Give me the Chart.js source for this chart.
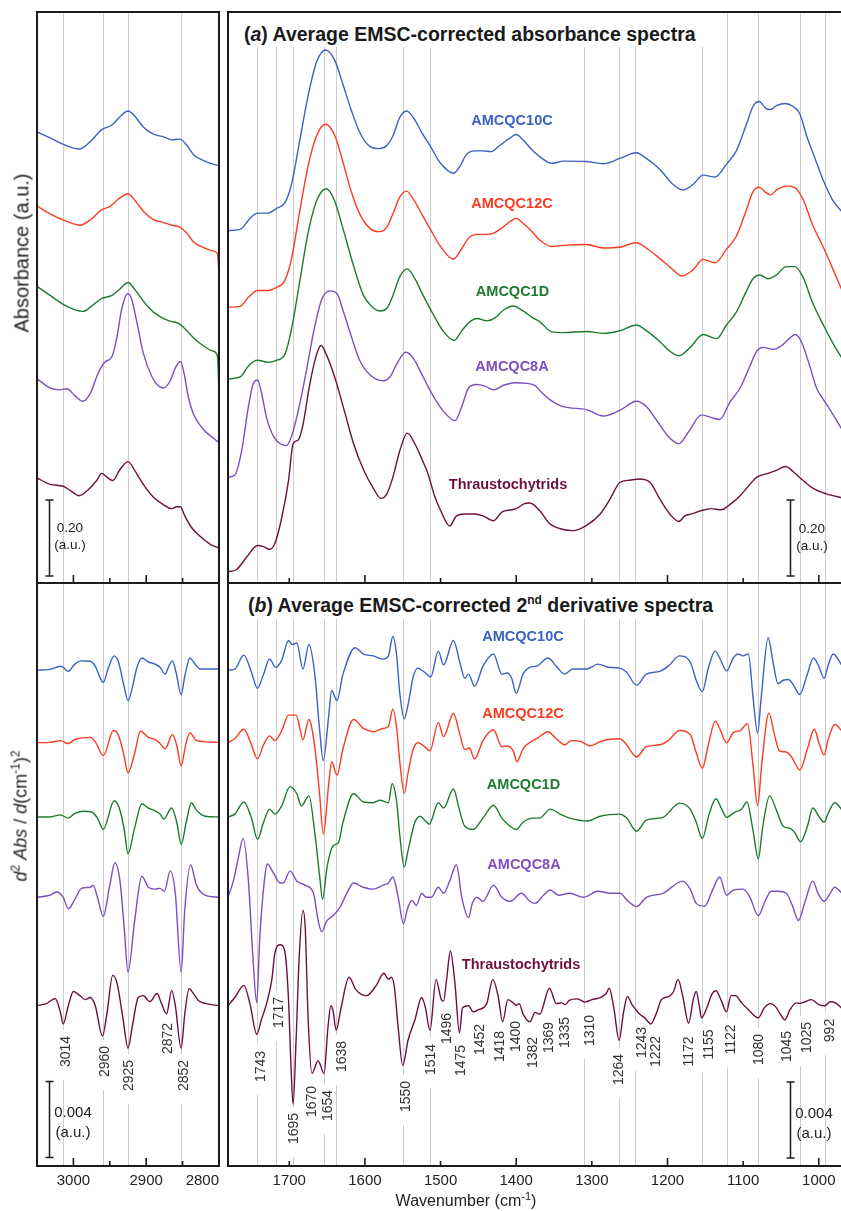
<!DOCTYPE html>
<html>
<head>
<meta charset="utf-8">
<script src="https://cdn.jsdelivr.net/npm/chart.js@4.4.1/dist/chart.umd.min.js"></script>
<style>
  html, body { margin: 0; padding: 0; background: #fff; }
  #fig { position: relative; width: 841px; height: 1211px; overflow: hidden;
         font-family: "Liberation Sans", Arial, sans-serif; color: #222; }
  canvas { position: absolute; left: 0; top: 0; }
  #guideLayer { z-index: 0; }
  .plot { z-index: 2; }
  .txt { position: absolute; z-index: 3; white-space: nowrap; }
  .series { font-weight: bold; font-size: 14.5px; line-height: 16px; transform: translate(-50%, -50%); }
  .rot { transform: translate(-50%, -50%) rotate(-90deg); }
  .peak { position: absolute; z-index: 1; white-space: nowrap; font-size: 14px; line-height: 14px;
          color: #333; background: #fff; padding: 0 6px 0 13px;
          transform: translate(-50%, -50%) rotate(-90deg); }
  .titlebox { position: absolute; z-index: 1; background: #fff; font-weight: bold;
              font-size: 19.5px; line-height: 22px; white-space: nowrap; color: #1a1a1a; }
  .bar { text-align: center; transform: translate(-50%, -50%); color: #222; }
</style>
</head>
<body>
<div id="fig">
  <canvas id="guideLayer" width="845" height="1211"></canvas>
  <canvas id="absCH" class="plot" width="845" height="1211"></canvas>
  <canvas id="absFP" class="plot" width="845" height="1211"></canvas>
  <canvas id="d2CH" class="plot" width="845" height="1211"></canvas>
  <canvas id="d2FP" class="plot" width="845" height="1211"></canvas>
</div>
<script>
// ---- samples ----
const SERIES = ['AMCQC10C', 'AMCQC12C', 'AMCQC1D', 'AMCQC8A', 'Thraustochytrids'];
const COLORS = ['#3b61c2', '#fb3b22', '#1c7b30', '#7c4fbf', '#6c1042'];

// ---- (a) average absorbance, C-H stretching region [wavenumber, absorbance (stacked)] ----
const absCH_10C = [[3050,1.189],[3032,1.173],[3014,1.156],[2992,1.144],[2977,1.163],[2961,1.195],[2947,1.207],[2936,1.229],[2925,1.244],[2915,1.229],[2904,1.202],[2890,1.183],[2876,1.176],[2865,1.168],[2854,1.170],[2844,1.153],[2835,1.129],[2822,1.114],[2808,1.104],[2800,1.100]];
const absCH_12C = [[3050,0.994],[3032,0.973],[3009,0.953],[2991,0.943],[2975,0.960],[2961,0.984],[2950,0.992],[2938,1.012],[2925,1.026],[2915,1.007],[2904,0.980],[2890,0.958],[2876,0.950],[2865,0.943],[2854,0.938],[2844,0.922],[2835,0.899],[2822,0.885],[2808,0.875],[2802,0.867],[2800,0.812]];
const absCH_1D = [[3050,0.782],[3032,0.758],[3009,0.729],[2987,0.716],[2973,0.733],[2961,0.750],[2947,0.758],[2936,0.775],[2925,0.792],[2915,0.772],[2904,0.743],[2890,0.714],[2876,0.697],[2865,0.689],[2856,0.685],[2844,0.665],[2835,0.646],[2822,0.626],[2808,0.611],[2802,0.597],[2800,0.494]];
const absCH_8A = [[3050,0.538],[3032,0.514],[3021,0.509],[3009,0.512],[2998,0.494],[2987,0.479],[2977,0.499],[2966,0.553],[2957,0.582],[2947,0.597],[2940,0.650],[2934,0.719],[2925,0.763],[2920,0.748],[2913,0.689],[2904,0.606],[2892,0.543],[2883,0.519],[2876,0.514],[2867,0.533],[2860,0.567],[2853,0.584],[2848,0.553],[2842,0.489],[2835,0.445],[2822,0.406],[2808,0.382],[2800,0.370]];
const absCH_Th = [[3050,0.277],[3032,0.260],[3014,0.255],[3005,0.245],[2992,0.230],[2980,0.245],[2968,0.270],[2961,0.289],[2954,0.279],[2946,0.270],[2936,0.299],[2925,0.320],[2915,0.294],[2904,0.260],[2890,0.226],[2876,0.206],[2865,0.196],[2858,0.201],[2853,0.201],[2847,0.177],[2838,0.147],[2826,0.123],[2812,0.102],[2800,0.092]];

// ---- (a) average absorbance, 1800-950 region ----
const absFP_10C = [[1781,0.929],[1765,0.932],[1752,0.961],[1742,0.975],[1728,0.975],[1717,0.987],[1706,1.002],[1697,1.051],[1686,1.168],[1675,1.285],[1664,1.373],[1652,1.405],[1640,1.378],[1629,1.314],[1618,1.246],[1607,1.188],[1593,1.150],[1581,1.145],[1571,1.153],[1563,1.178],[1554,1.227],[1545,1.244],[1536,1.227],[1525,1.188],[1514,1.153],[1501,1.109],[1483,1.080],[1474,1.100],[1466,1.129],[1455,1.139],[1444,1.139],[1433,1.137],[1422,1.153],[1408,1.173],[1400,1.182],[1391,1.168],[1378,1.139],[1369,1.124],[1353,1.106],[1338,1.112],[1307,1.111],[1285,1.105],[1263,1.119],[1241,1.134],[1228,1.119],[1210,1.090],[1193,1.051],[1179,1.036],[1166,1.051],[1153,1.075],[1137,1.070],[1122,1.104],[1109,1.139],[1096,1.207],[1087,1.256],[1079,1.269],[1070,1.251],[1064,1.248],[1056,1.258],[1045,1.264],[1034,1.256],[1025,1.236],[1016,1.178],[1005,1.119],[994,1.061],[981,1.007],[968,0.975]];
const absFP_12C = [[1781,0.727],[1765,0.729],[1754,0.753],[1742,0.771],[1728,0.771],[1717,0.779],[1706,0.797],[1697,0.855],[1686,0.982],[1675,1.100],[1664,1.178],[1652,1.209],[1640,1.180],[1629,1.109],[1618,1.031],[1607,0.973],[1593,0.934],[1581,0.926],[1571,0.938],[1563,0.973],[1554,1.017],[1545,1.033],[1536,1.012],[1525,0.973],[1514,0.934],[1501,0.890],[1483,0.854],[1474,0.875],[1463,0.909],[1452,0.919],[1439,0.919],[1430,0.922],[1419,0.936],[1408,0.953],[1400,0.961],[1391,0.948],[1378,0.924],[1369,0.904],[1353,0.887],[1338,0.890],[1307,0.892],[1285,0.883],[1263,0.885],[1241,0.897],[1228,0.883],[1210,0.855],[1193,0.826],[1181,0.809],[1166,0.826],[1153,0.853],[1137,0.844],[1122,0.880],[1109,0.914],[1096,0.982],[1087,1.031],[1079,1.043],[1071,1.031],[1064,1.023],[1054,1.039],[1043,1.046],[1032,1.043],[1021,1.012],[1008,0.943],[994,0.885],[981,0.826],[968,0.765]];
const absFP_1D = [[1781,0.538],[1765,0.543],[1754,0.572],[1742,0.587],[1728,0.582],[1717,0.587],[1706,0.602],[1697,0.670],[1686,0.797],[1675,0.924],[1664,1.007],[1651,1.039],[1640,1.007],[1629,0.934],[1615,0.836],[1602,0.758],[1591,0.729],[1580,0.717],[1571,0.724],[1563,0.758],[1554,0.807],[1544,0.828],[1534,0.802],[1523,0.758],[1510,0.709],[1497,0.665],[1482,0.639],[1472,0.665],[1461,0.689],[1452,0.697],[1439,0.691],[1428,0.699],[1417,0.719],[1404,0.730],[1391,0.717],[1378,0.699],[1369,0.689],[1353,0.662],[1338,0.660],[1307,0.663],[1285,0.658],[1263,0.665],[1241,0.680],[1228,0.665],[1210,0.636],[1197,0.611],[1185,0.599],[1170,0.621],[1153,0.655],[1135,0.644],[1122,0.680],[1109,0.714],[1096,0.768],[1087,0.802],[1078,0.812],[1067,0.802],[1056,0.812],[1043,0.834],[1032,0.834],[1021,0.807],[1008,0.738],[994,0.680],[981,0.631],[968,0.588]];
const absFP_8A = [[1781,0.279],[1772,0.284],[1763,0.348],[1754,0.465],[1748,0.523],[1742,0.535],[1737,0.504],[1730,0.436],[1721,0.387],[1712,0.367],[1704,0.362],[1697,0.387],[1688,0.455],[1677,0.563],[1668,0.660],[1657,0.748],[1646,0.770],[1637,0.763],[1629,0.719],[1618,0.650],[1607,0.587],[1593,0.548],[1576,0.533],[1567,0.543],[1558,0.577],[1546,0.608],[1536,0.592],[1523,0.543],[1510,0.494],[1497,0.455],[1481,0.428],[1472,0.465],[1463,0.514],[1452,0.523],[1441,0.519],[1430,0.509],[1417,0.521],[1402,0.528],[1386,0.526],[1375,0.520],[1367,0.504],[1356,0.484],[1338,0.465],[1307,0.457],[1285,0.440],[1263,0.455],[1241,0.479],[1228,0.465],[1210,0.416],[1197,0.382],[1185,0.367],[1173,0.396],[1155,0.443],[1142,0.436],[1131,0.431],[1118,0.475],[1104,0.514],[1091,0.572],[1082,0.611],[1074,0.621],[1060,0.616],[1049,0.626],[1038,0.646],[1031,0.655],[1023,0.636],[1012,0.572],[1003,0.514],[994,0.484],[983,0.450],[968,0.400]];
const absFP_Th = [[1781,0.030],[1770,0.035],[1756,0.069],[1742,0.099],[1734,0.096],[1726,0.089],[1719,0.104],[1710,0.172],[1701,0.270],[1695,0.367],[1688,0.377],[1682,0.416],[1673,0.523],[1664,0.602],[1658,0.626],[1651,0.602],[1640,0.543],[1626,0.445],[1615,0.367],[1602,0.299],[1589,0.250],[1579,0.223],[1571,0.235],[1563,0.279],[1554,0.348],[1544,0.395],[1534,0.367],[1525,0.328],[1516,0.284],[1508,0.230],[1499,0.187],[1488,0.150],[1479,0.177],[1468,0.182],[1455,0.182],[1444,0.177],[1430,0.164],[1419,0.187],[1406,0.193],[1400,0.196],[1389,0.209],[1382,0.211],[1369,0.191],[1356,0.157],[1338,0.141],[1325,0.138],[1307,0.152],[1289,0.182],[1276,0.221],[1263,0.265],[1250,0.271],[1237,0.274],[1223,0.265],[1210,0.221],[1197,0.182],[1185,0.162],[1177,0.177],[1168,0.182],[1155,0.191],[1142,0.196],[1129,0.193],[1118,0.206],[1104,0.230],[1091,0.260],[1082,0.279],[1067,0.289],[1056,0.297],[1044,0.307],[1034,0.294],[1023,0.274],[1008,0.250],[990,0.235],[968,0.224]];

// ---- (b) 2nd derivative, C-H region [wavenumber, d2A in units of 1e-3] ----
const d2CH_10C = [[3050,0],[3032,0.04],[3018,0.21],[3014,0.15],[3007,-0.06],[2998,0.32],[2989,0.49],[2977,0.47],[2970,0.21],[2963,-0.43],[2959,-0.64],[2952,0.11],[2944,0.75],[2938,0.43],[2931,-0.75],[2925,-1.60],[2918,-0.75],[2913,0.11],[2906,0.64],[2897,0.43],[2888,0.32],[2881,0.15],[2874,-0.21],[2870,0.11],[2864,0.49],[2859,-0.11],[2852,-1.28],[2847,-0.32],[2840,0.64],[2833,0.32],[2826,0.06],[2800,0.06]];
const d2CH_12C = [[3050,0],[3032,0.02],[3018,0.11],[3007,-0.04],[2998,0.17],[2977,0.28],[2970,0.06],[2959,-0.68],[2945,0.64],[2938,0.38],[2931,-0.58],[2925,-1.58],[2916,-0.58],[2908,0.60],[2897,0.28],[2888,0.17],[2881,-0.04],[2874,-0.32],[2864,0.43],[2858,-0.15],[2852,-1.22],[2846,-0.15],[2840,0.53],[2831,0.11],[2800,0.02]];
const d2CH_1D = [[3050,0],[3032,0],[3018,0.11],[3007,-0.06],[2998,0.19],[2986,0.30],[2975,0.26],[2967,-0.06],[2959,-0.66],[2944,0.85],[2937,0.47],[2930,-0.71],[2925,-1.94],[2916,-0.60],[2906,0.68],[2897,0.47],[2888,0.32],[2881,0.15],[2876,-0.11],[2865,0.47],[2858,-0.28],[2852,-1.45],[2845,-0.28],[2838,0.75],[2831,0.36],[2819,0.04],[2800,0]];
const d2CH_8A = [[3050,0],[3032,0.11],[3023,0.28],[3014,0],[3007,-0.60],[2998,-0.11],[2989,0.47],[2977,0.53],[2973,0.64],[2967,0],[2959,-1.00],[2950,0.64],[2943,1.82],[2936,0.85],[2930,-1.71],[2925,-3.95],[2916,-1.28],[2906,1.11],[2897,0.53],[2888,0.43],[2881,0.47],[2875,0.32],[2867,1.39],[2860,0.21],[2852,-3.95],[2847,-0.64],[2839,1.71],[2831,0.64],[2819,0.11],[2800,0]];
const d2CH_Th = [[3050,0],[3037,0.11],[3025,0.38],[3018,-0.32],[3014,-0.96],[3007,0],[3000,0.75],[2991,0.53],[2984,0.32],[2977,0.43],[2970,0],[2960,-1.60],[2954,-0.43],[2946,1.60],[2940,1.18],[2932,-0.64],[2925,-2.24],[2919,-1.07],[2911,0.43],[2904,0.53],[2895,0.21],[2885,0.64],[2879,0.11],[2872,-0.43],[2865,0.81],[2860,0],[2852,-2.24],[2847,-0.43],[2841,0.90],[2835,0.64],[2828,0.26],[2817,0.11],[2800,0]];

// ---- (b) 2nd derivative, 1800-950 region ----
const d2FP_10C = [[1781,0],[1772,0.06],[1760,0.79],[1750,-0.11],[1742,-0.96],[1734,-0.21],[1726,0.58],[1718,0.15],[1710,0.53],[1701,1.56],[1696,1.35],[1690,1.43],[1682,0.06],[1674,1.35],[1666,-0.32],[1660,-3.10],[1655,-4.76],[1648,-2.46],[1644,-1.07],[1637,-1.60],[1629,-0.21],[1613,1.18],[1602,0.85],[1589,0.75],[1576,0.58],[1569,0.75],[1563,1.77],[1558,0.75],[1554,-1.18],[1548,-2.56],[1543,-1.82],[1536,-0.32],[1530,0.11],[1521,-0.11],[1513,-0.36],[1503,1.00],[1496,0.28],[1483,1.56],[1474,0.32],[1468,-0.43],[1463,-0.21],[1455,-0.85],[1444,0.21],[1430,0.85],[1419,-0.21],[1412,-0.15],[1406,-0.43],[1400,-1.22],[1391,-0.21],[1382,0.15],[1373,0.21],[1358,0.64],[1347,0.21],[1336,-0.21],[1325,0.06],[1307,0.06],[1292,0.32],[1278,0.15],[1263,0.11],[1254,-0.11],[1241,-0.79],[1228,-0.21],[1210,-0.06],[1199,0.21],[1184,0.75],[1170,0.43],[1162,-0.53],[1154,-1.13],[1146,0.11],[1137,1.00],[1131,0.64],[1122,-0.04],[1113,0.64],[1107,0.85],[1100,0.75],[1093,0.85],[1087,-1.39],[1081,-3.31],[1076,-1.39],[1067,1.71],[1060,0.32],[1054,-0.71],[1047,-0.53],[1040,-0.49],[1034,-0.75],[1025,-1.28],[1016,-0.32],[1007,0.64],[1000,0.21],[993,-0.43],[988,0.21],[981,0.85],[968,0.15]];
const d2FP_12C = [[1781,0],[1772,0.21],[1760,0.71],[1750,-0.11],[1742,-0.85],[1734,-0.11],[1726,0.36],[1719,0.11],[1710,0.64],[1701,1.45],[1691,1.45],[1686,0.75],[1682,0.15],[1674,1.22],[1666,-0.32],[1660,-2.67],[1655,-4.81],[1648,-2.24],[1644,-1.00],[1637,-1.71],[1629,-0.32],[1615,1.22],[1602,0.75],[1589,0.58],[1576,0.75],[1569,0.85],[1563,1.77],[1558,0.75],[1554,-0.96],[1548,-2.67],[1543,-1.60],[1536,-0.32],[1530,0],[1521,-0.21],[1514,-0.43],[1503,1.07],[1496,0.32],[1483,1.54],[1475,0.53],[1468,-0.36],[1462,-0.28],[1455,-0.85],[1444,0.11],[1430,0.68],[1419,-0.21],[1412,-0.17],[1404,-0.43],[1399,-1.00],[1391,-0.32],[1378,0.11],[1373,0.21],[1358,0.58],[1347,0.21],[1336,-0.11],[1327,0.11],[1314,0.06],[1303,-0.17],[1289,0.06],[1278,0.17],[1263,0.21],[1254,-0.11],[1241,-0.75],[1228,-0.21],[1210,-0.11],[1199,0.11],[1184,0.64],[1170,0.43],[1162,-0.53],[1154,-1.35],[1146,-0.11],[1137,1.13],[1131,0.75],[1122,0],[1113,0.53],[1104,0.64],[1094,1.00],[1087,-1.18],[1081,-3.31],[1075,-0.96],[1066,1.56],[1058,0.32],[1052,-0.43],[1043,-0.49],[1036,-0.75],[1025,-1.43],[1015,-0.32],[1006,0.71],[999,-0.11],[993,-0.64],[988,0.11],[979,0.96],[968,0.55]];
const d2FP_1D = [[1781,0],[1772,0.15],[1760,0.79],[1750,-0.06],[1742,-1.18],[1734,-0.28],[1726,0.41],[1719,0.15],[1710,0.58],[1699,1.60],[1690,1.22],[1684,0.58],[1674,1.11],[1666,-0.92],[1660,-3.06],[1656,-4.34],[1650,-2.63],[1642,-1.52],[1635,-1.35],[1629,-0.28],[1615,1.22],[1602,0.79],[1589,0.75],[1580,0.88],[1569,0.75],[1564,1.75],[1558,0.79],[1554,-0.92],[1548,-2.63],[1543,-1.77],[1534,-0.28],[1527,0.04],[1521,-0.17],[1515,-0.38],[1503,0.75],[1496,0.47],[1483,1.47],[1475,0.36],[1468,-0.49],[1457,-0.66],[1444,-0.06],[1430,0.62],[1419,-0.06],[1408,-0.49],[1400,-0.66],[1391,-0.28],[1378,-0.06],[1369,-0.06],[1355,0.41],[1342,0.15],[1329,-0.06],[1305,-0.21],[1289,0.04],[1263,0.15],[1254,-0.06],[1241,-0.75],[1228,-0.17],[1206,-0.02],[1184,0.73],[1170,0.41],[1162,-0.28],[1154,-1.13],[1145,0.15],[1136,0.96],[1129,0.47],[1122,-0.02],[1111,0.26],[1102,0.41],[1095,0.79],[1087,-0.71],[1080,-2.20],[1074,-0.49],[1065,1.11],[1056,0.36],[1047,-0.49],[1038,-0.60],[1032,-0.81],[1024,-1.30],[1015,-0.49],[1008,0.47],[1000,0.04],[993,-0.28],[988,0.15],[979,0.75],[968,0.30]];
const d2FP_8A = [[1781,0],[1774,0.85],[1767,2.14],[1761,3.10],[1754,0.85],[1748,-3.21],[1743,-5.56],[1739,-2.14],[1733,0.85],[1729,1.75],[1721,1.28],[1712,0.75],[1708,0.75],[1699,1.39],[1690,0.85],[1679,0.64],[1668,0.21],[1662,-1.18],[1657,-1.82],[1651,-1.28],[1642,-0.96],[1633,-0.53],[1624,0.21],[1615,0.75],[1602,0.53],[1589,0.43],[1576,0.64],[1569,0.75],[1563,1.07],[1556,0],[1549,-1.39],[1544,-0.64],[1538,-0.17],[1532,-0.43],[1525,0.21],[1519,0],[1512,0],[1503,0.53],[1496,0.21],[1488,0.85],[1479,1.71],[1472,0],[1463,-1.07],[1458,-0.32],[1452,0],[1444,-0.21],[1430,0.64],[1419,0],[1408,-0.21],[1393,0.21],[1382,-0.21],[1375,-0.32],[1364,0.11],[1355,0.38],[1344,0.11],[1329,0.21],[1311,0],[1292,0.32],[1276,0.21],[1263,0.21],[1252,-0.21],[1241,-0.49],[1228,0],[1206,0.21],[1180,0.85],[1170,0.43],[1162,-0.32],[1151,-0.47],[1140,0.43],[1131,1.07],[1122,0.11],[1113,0.38],[1100,0.43],[1091,0],[1080,-0.96],[1071,-0.21],[1063,0.32],[1054,0.32],[1043,0.21],[1035,-0.43],[1027,-1.22],[1018,-0.21],[1008,0.85],[1001,0.21],[993,-0.21],[985,0.21],[979,0.53],[968,0.15]];
const d2FP_Th = [[1781,0],[1772,0.43],[1760,1.07],[1752,0.11],[1743,-1.50],[1737,-0.75],[1730,0.11],[1723,1.39],[1719,2.78],[1712,3.21],[1706,2.88],[1701,0.32],[1698,-2.88],[1695,-5.20],[1691,-1.82],[1687,2.46],[1682,5.02],[1679,4.17],[1675,-0.75],[1670,-3.57],[1662,-2.90],[1654,-3.57],[1649,-1.20],[1645,0.00],[1642,-0.30],[1638,-1.30],[1632,-0.20],[1621,1.50],[1612,0.85],[1598,0.53],[1585,1.07],[1575,1.71],[1569,1.39],[1565,1.50],[1561,0.96],[1556,-1.17],[1550,-3.14],[1543,-1.82],[1534,-0.75],[1525,0.43],[1520,-0.11],[1514,-1.30],[1506,1.39],[1499,0.32],[1496,0.25],[1492,1.39],[1487,2.88],[1481,1.18],[1475,-1.43],[1471,-0.11],[1463,0],[1457,-0.32],[1450,-0.21],[1439,0.11],[1431,1.39],[1424,0.53],[1418,-0.85],[1411,0.32],[1404,0.15],[1400,0.02],[1396,0.11],[1391,-0.43],[1382,-0.85],[1375,-0.35],[1369,-0.45],[1356,0.92],[1347,0.11],[1340,0.15],[1335,0.06],[1330,0.28],[1320,0.36],[1314,0.28],[1310,0.19],[1300,0.32],[1290,0.41],[1281,0.64],[1277,0.92],[1271,-0.11],[1264,-1.82],[1258,-0.32],[1253,0.49],[1247,0.06],[1243,-0.15],[1237,-0.43],[1230,-0.64],[1222,-0.96],[1215,-0.43],[1208,0.32],[1198,0.49],[1192,0.75],[1186,1.39],[1180,0.53],[1172,-0.92],[1166,0.32],[1162,0.75],[1158,0],[1155,-0.64],[1148,-0.11],[1141,0.64],[1136,0.79],[1129,0.28],[1122,-0.32],[1116,0.53],[1110,0.53],[1102,0.15],[1093,-0.21],[1080,-0.64],[1072,-0.11],[1064,0.11],[1057,-0.06],[1051,-0.43],[1045,-0.75],[1038,-0.21],[1030,0.15],[1025,0.12],[1018,0.21],[1010,0.32],[1000,0.06],[992,0],[985,0.21],[978,0.15],[968,-0.20]];

// stacking offsets of the derivative traces (units of 1e-3)
const d2Offsets = [26.11, 22.29, 18.38, 14.15, 8.44];

// assigned band positions (cm-1)
const peaksCH = [3014, 2960, 2925, 2872, 2852];
const peaksFP = [1743, 1717, 1695, 1670, 1654, 1638, 1550, 1514, 1496, 1475, 1452, 1418, 1400, 1382, 1369, 1335, 1310, 1264, 1243, 1222, 1172, 1155, 1122, 1080, 1045, 1025, 992];
const guidesCH = [3014, 2960, 2925, 2852];
const guidesFP = [1743, 1717, 1695, 1654, 1638, 1550, 1514, 1310, 1264, 1243, 1155, 1122, 1080, 1025, 992];

// ---- layout (page pixels) ----
const peakLabelYCH = [1051, 1061, 1075, 1038, 1075];
const peakLabelDxCH = [2, 1, 0, 0, 2];
const peakLabelYFP = [1066, 1012, 1128, 1101, 1105, 1056, 1096, 1059, 1028, 1060, 1039, 1046, 1036, 1052, 1037, 1032, 1030, 1069, 1042, 1051, 1051, 1044, 1039, 1049, 1046, 1037, 1030];
const peakLabelDxFP = [3, 2, 0, -1, 3, 5, 2, 0, 2, 1, 2, -4, -1, 2, 8, -1, 5, -1, 6, 4, -1, 6, 3, 0, 1, 6, 4];
const seriesLabelPosA = [[512, 119.5], [512, 203], [512.5, 291], [512, 365.5], [508, 484]];
const seriesLabelPosB = [[523, 636], [523, 713], [523.5, 784], [524, 864], [521, 964]];

const W = 845, H = 1211;
const fig = document.getElementById('fig');
const guideCtx = document.getElementById('guideLayer').getContext('2d');
Chart.defaults.font.family = '"Liberation Sans", Arial, sans-serif';

// the x scales carry negated wavenumbers so that the axis runs from high to low
const toAxis = w => -w;

function traces(sets, offsets, unit) {
  return sets.map((pts, i) => ({
    label: SERIES[i],
    data: pts.map(([w, v]) => ({ x: toAxis(w), y: (v + (offsets ? offsets[i] : 0)) * unit })),
    borderColor: COLORS[i],
    borderWidth: 1.4,
    pointRadius: 0,
    fill: false,
    cubicInterpolationMode: 'monotone'
  }));
}

// vertical band guides on the layer underneath the plots
function guidePlugin(values) {
  return {
    id: 'bandGuides',
    afterDraw(chart) {
      const { chartArea: a, scales: { x } } = chart;
      guideCtx.save();
      guideCtx.strokeStyle = '#cdcdcd';
      guideCtx.lineWidth = 1;
      values.forEach(v => {
        const px = Math.round(x.getPixelForValue(toAxis(v))) + 0.5;
        guideCtx.beginPath();
        guideCtx.moveTo(px, a.top);
        guideCtx.lineTo(px, a.bottom);
        guideCtx.stroke();
      });
      guideCtx.restore();
    }
  };
}

// frame, inward tick marks and the intensity scale bar
function decorPlugin(majorEvery, bar) {
  return {
    id: 'panelDecor',
    afterDraw(chart) {
      const { ctx, chartArea: a, scales: { x, y } } = chart;
      ctx.save();
      ctx.strokeStyle = '#1b1b1b';
      ctx.lineWidth = 1.6;
      x.ticks.forEach(t => {
        const px = x.getPixelForValue(t.value);
        if (px < a.left + 2 || px > a.right - 2) return;
        const len = Math.abs(t.value) % majorEvery === 0 ? 8 : 5;
        ctx.beginPath();
        ctx.moveTo(px, a.bottom);
        ctx.lineTo(px, a.bottom - len);
        ctx.stroke();
      });
      const h = y.getPixelForValue(0) - y.getPixelForValue(bar.len);
      const bx = Math.round(a.left + bar.dx) + 0.5;
      const by = a.bottom - bar.gap;
      ctx.lineWidth = 1.5;
      ctx.beginPath();
      ctx.moveTo(bx, by); ctx.lineTo(bx, by - h);
      ctx.moveTo(bx - 4, by); ctx.lineTo(bx + 4, by);
      ctx.moveTo(bx - 4, by - h); ctx.lineTo(bx + 4, by - h);
      ctx.stroke();
      ctx.lineWidth = 2;
      ctx.strokeRect(a.left, a.top, a.right - a.left, a.bottom - a.top);
      ctx.restore();
    }
  };
}

function panel(id, box, xr, yr, datasets, opts) {
  return new Chart(document.getElementById(id), {
    type: 'line',
    data: { datasets },
    options: {
      responsive: false,
      animation: false,
      devicePixelRatio: 1,
      events: [],
      layout: { padding: { left: box.left, top: box.top, right: W - box.right, bottom: H - box.bottom - (opts.labels ? 34 : 0) } },
      plugins: { legend: { display: false }, tooltip: { enabled: false } },
      scales: {
        x: {
          type: 'linear', min: toAxis(xr[1]), max: toAxis(xr[0]),
          border: { display: false },
          grid: { display: false, drawTicks: false, tickLength: 0 },
          ticks: {
            display: opts.labels, stepSize: opts.step, includeBounds: false,
            autoSkip: false, maxRotation: 0, minRotation: 0,
            align: opts.align || 'center', padding: 6, color: '#222',
            font: { size: 15 },
            callback: v => (Math.abs(v) % opts.labelEvery === 0 ? String(-v) : '')
          },
          afterFit: s => { s.height = opts.labels ? 34 : 0; }
        },
        y: { display: false, min: yr[0], max: yr[1] }
      }
    },
    plugins: [guidePlugin(opts.guides), decorPlugin(opts.majorEvery, opts.bar)]
  });
}

const absRange = [0, 1.505];
const d2Range = [0, 0.0307];

panel('absCH', { left: 37, top: 12, right: 219, bottom: 583 }, [2800, 3050], absRange,
  traces([absCH_10C, absCH_12C, absCH_1D, absCH_8A, absCH_Th], null, 1),
  { labels: false, step: 50, labelEvery: 100, majorEvery: 100, guides: guidesCH, bar: { len: 0.20, dx: 12, gap: 7 } });
panel('absFP', { left: 228, top: 12, right: 843, bottom: 583 }, [968, 1781], absRange,
  traces([absFP_10C, absFP_12C, absFP_1D, absFP_8A, absFP_Th], null, 1),
  { labels: false, step: 100, labelEvery: 100, majorEvery: 200, guides: guidesFP, bar: { len: 0.20, dx: 562, gap: 7 } });
const chartD2CH = panel('d2CH', { left: 37, top: 583, right: 219, bottom: 1166 }, [2800, 3050], d2Range,
  traces([d2CH_10C, d2CH_12C, d2CH_1D, d2CH_8A, d2CH_Th], d2Offsets, 1e-3),
  { labels: true, align: 'inner', step: 50, labelEvery: 100, majorEvery: 100, guides: guidesCH, bar: { len: 0.004, dx: 12, gap: 8.5 } });
const chartD2FP = panel('d2FP', { left: 228, top: 583, right: 843, bottom: 1166 }, [968, 1781], d2Range,
  traces([d2FP_10C, d2FP_12C, d2FP_1D, d2FP_8A, d2FP_Th], d2Offsets, 1e-3),
  { labels: true, step: 100, labelEvery: 100, majorEvery: 200, guides: guidesFP, bar: { len: 0.004, dx: 562, gap: 8 } });

// ---- text ----
function addText(html, cls, x, y, style) {
  const d = document.createElement('div');
  d.className = cls;
  d.innerHTML = html;
  d.style.left = x + 'px';
  d.style.top = y + 'px';
  if (style) Object.assign(d.style, style);
  fig.appendChild(d);
  return d;
}

// panel titles on white boxes that interrupt the band guides
addText('(<i>a</i>) Average EMSC-corrected absorbance spectra', 'titlebox', 229, 13,
  { width: '491px', height: '34px', boxSizing: 'border-box', paddingLeft: '15px', paddingTop: '10px' });
addText('(<i>b</i>) Average EMSC-corrected 2<sup style="font-size:12px;line-height:0;vertical-align:8px">nd</sup> derivative spectra', 'titlebox', 229, 584,
  { width: '491px', height: '35px', boxSizing: 'border-box', paddingLeft: '19px', paddingTop: '10px' });

SERIES.forEach((name, i) => {
  addText(name, 'txt series', seriesLabelPosA[i][0], seriesLabelPosA[i][1], { color: COLORS[i] });
  addText(name, 'txt series', seriesLabelPosB[i][0], seriesLabelPosB[i][1], { color: COLORS[i] });
});

addText('Absorbance (a.u.)', 'txt rot', 22, 253, { fontSize: '20px' });
addText('<i>d</i><sup style="font-size:12px;line-height:0">2</sup> <i>Abs</i> / <i>d</i>(cm<sup style="font-size:12px;line-height:0">-1</sup>)<sup style="font-size:12px;line-height:0">2</sup>',
  'txt rot', 21, 816, { fontSize: '18px' });
addText('Wavenumber (cm<sup style="font-size:11px;line-height:0">-1</sup>)', 'txt', 466, 1201,
  { fontSize: '16px', transform: 'translate(-50%, -50%)' });

addText('0.20<br>(a.u.)', 'txt bar', 70, 536, { fontSize: '13.5px', lineHeight: '17px' });
addText('0.20<br>(a.u.)', 'txt bar', 812, 537, { fontSize: '13.5px', lineHeight: '17px' });
addText('0.004<br>(a.u.)', 'txt bar', 73, 1122, { fontSize: '15px', lineHeight: '20px' });
addText('0.004<br>(a.u.)', 'txt bar', 814, 1123, { fontSize: '15px', lineHeight: '20px' });

// band labels below the Thraustochytrids traces
function bandLabels(chart, values, ys, dxs) {
  const x = chart.scales.x;
  values.forEach((v, i) => {
    const px = x.getPixelForValue(toAxis(v)) + dxs[i];
    addText(String(v), 'peak', px, ys[i] + 3.5);
  });
}
bandLabels(chartD2CH, peaksCH, peakLabelYCH, peakLabelDxCH);
bandLabels(chartD2FP, peaksFP, peakLabelYFP, peakLabelDxFP);
</script>
</body>
</html>
